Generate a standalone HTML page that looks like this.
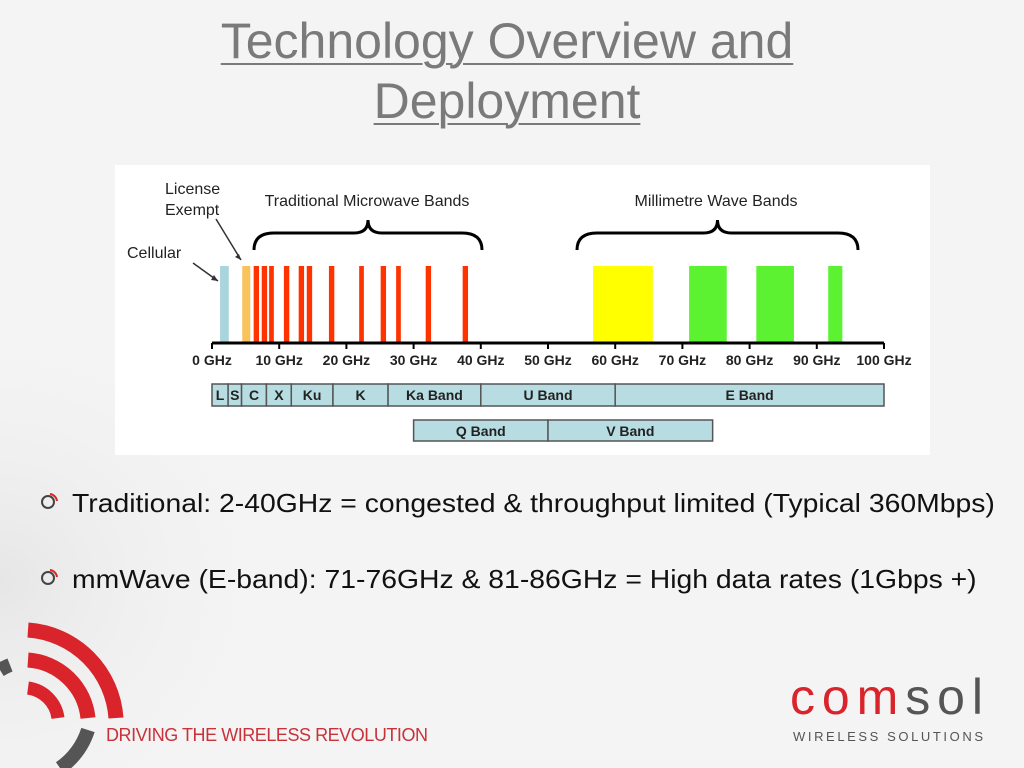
<!DOCTYPE html>
<html><head><meta charset="utf-8"><style>
body{margin:0;width:1024px;height:768px;overflow:hidden;background:#f4f4f4;font-family:"Liberation Sans",sans-serif;position:relative}
.t{position:absolute;left:0;width:1014px;text-align:center;color:#7a7a7a;font-size:50px;text-decoration:underline;text-decoration-thickness:2px;text-underline-offset:5px}
.b{position:absolute;left:72px;font-size:26px;color:#111;white-space:nowrap;transform:scaleX(1.09);transform-origin:left top}
</style></head><body>
<svg width="1024" height="768" style="position:absolute;left:0;top:0">
<defs><radialGradient id="g" cx="0" cy="0.6" r="0.6"><stop offset="0" stop-color="#e6e6e6"/><stop offset="1" stop-color="#f4f4f4" stop-opacity="0"/></radialGradient></defs>
<rect x="0" y="300" width="500" height="468" fill="url(#g)"/>
</svg>
<div class="t" style="top:12px">Technology Overview and</div>
<div class="t" style="top:72px">Deployment</div>
<svg id="chart" width="1024" height="768" style="position:absolute;left:0;top:0" font-family="Liberation Sans, sans-serif"></svg>
<div class="b" style="top:488px">Traditional: 2-40GHz = congested &amp; throughput limited (Typical 360Mbps)</div>
<div class="b" style="top:564px">mmWave (E-band): 71-76GHz &amp; 81-86GHz = High data rates (1Gbps +)</div>
<svg width="1024" height="768" style="position:absolute;left:0;top:0">
<g fill="none" stroke-width="2"><circle cx="48" cy="502" r="6" stroke="#444"/><circle cx="48" cy="578" r="6" stroke="#444"/>
<path d="M50 494 A8 8 0 0 1 57 501" stroke="#d22"/><path d="M50 570 A8 8 0 0 1 57 577" stroke="#d22"/></g>
<g fill="none" stroke-linecap="butt">
<path d="M28 630 A95 95 0 0 1 116 718" stroke="#d9242b" stroke-width="15"/>
<path d="M28 660 A65 65 0 0 1 88 718" stroke="#d9242b" stroke-width="15"/>
<path d="M28 688 A35 35 0 0 1 58 718" stroke="#d9242b" stroke-width="13"/>
<path d="M0 670 A60 60 0 0 1 10 665" stroke="#555" stroke-width="14"/>
<path d="M88 730 A75 75 0 0 1 60 768" stroke="#555" stroke-width="14"/>
</g>
<text x="106" y="741" font-family="Liberation Sans, sans-serif" font-size="18" textLength="322" fill="#c8323a">DRIVING THE WIRELESS REVOLUTION</text>
<text x="790" y="714" font-family="Liberation Sans, sans-serif" font-size="50" textLength="193"><tspan fill="#d9242b">com</tspan><tspan fill="#555">sol</tspan></text>
<text x="793" y="741" font-family="Liberation Sans, sans-serif" font-size="13" textLength="190" fill="#555">WIRELESS  SOLUTIONS</text>
</svg>
<script>
const ticks=[0,10,20,30,40,50,60,70,80,90,100];
const cellular=[[1.2,2.5]];
const licenseExempt=[[4.5,5.7]];
const traditional=[[6.2,7],[7.4,8.2],[8.5,9.2],[10.7,11.5],[12.9,13.7],[14.1,14.9],[17.4,18.2],[21.9,22.6],[25.1,25.9],[27.4,28.1],[31.8,32.6],[37.3,38.1]];
const vband=[[56.7,65.6]];
const eband=[[71,76.6],[81,86.6],[91.7,93.8]];
const bandNames=["L","S","C","X","Ku","K","Ka Band","U Band","E Band"];
const bandEdges=[0,2.4,4.4,8.1,11.8,18,26.2,40,60,100];
const band2Names=["Q Band","V Band"];
const band2Edges=[30,50,74.5];
const NS="http://www.w3.org/2000/svg";
const svg=document.getElementById('chart');
const X=g=>212+g*6.72;
function el(t,a,p){const e=document.createElementNS(NS,t);for(const k in a)e.setAttribute(k,a[k]);(p||svg).appendChild(e);return e;}
const panel=el('rect',{x:115,y:165,width:815,height:290,fill:'#fff'});


function bars(arr,color,name){arr.forEach((b,i)=>{const r=el('rect',{x:X(b[0]),y:266,width:X(b[1])-X(b[0]),height:76,fill:color});

});}
bars(cellular,'#a9d6dc','cellular-bar');
bars(licenseExempt,'#f9c25a','license-exempt-bar');
bars(traditional,'#ff3300','microwave-bar');
bars(vband,'#ffff00','v-band-bar');
bars(eband,'#5cf232','e-band-bar');
const ax=el('line',{x1:X(0),x2:X(100),y1:343,y2:343,stroke:'#000','stroke-width':3});


ticks.forEach(t=>{el('line',{x1:X(t),x2:X(t),y1:343,y2:349,stroke:'#000','stroke-width':2});
const tx=el('text',{x:X(t),y:365,'text-anchor':'middle','font-size':14,'font-weight':'bold',fill:'#222'});tx.textContent=t+' GHz';

});
function bandRow(names,edges,y,h,nm){names.forEach((n,i)=>{const x1=X(edges[i]),x2=X(edges[i+1]);
el('rect',{x:x1,y:y,width:x2-x1,height:h,fill:'#b7dde3',stroke:'#555','stroke-width':1.5});
const t=el('text',{x:(x1+x2)/2,y:y+16,'text-anchor':'middle','font-size':14,'font-weight':'bold',fill:'#222'});t.textContent=n;

});}
bandRow(bandNames,bandEdges,384,22,'band');
bandRow(band2Names,band2Edges,420,21,'band2');
function brace(x1,x2,name){const m=(x1+x2)/2;const p=el('path',{d:`M${x1} 250 Q${x1} 233 ${x1+20} 233 L${m-14} 233 Q${m} 233 ${m} 220 Q${m} 233 ${m+14} 233 L${x2-20} 233 Q${x2} 233 ${x2} 250`,fill:'none',stroke:'#000','stroke-width':3});

}
brace(254,482,'traditional-brace');brace(577,858,'mmwave-brace');
function lbl(x,y,s,a){const t=el('text',{x:x,y:y,'font-size':16,fill:'#222','text-anchor':a||'start'});t.textContent=s;

}
lbl(367,206,'Traditional Microwave Bands','middle');lbl(716,206,'Millimetre Wave Bands','middle');
lbl(165,194,'License');lbl(165,215,'Exempt');lbl(127,258,'Cellular');
el('line',{x1:193,y1:263,x2:218,y2:281,stroke:'#333','stroke-width':1.5});
el('line',{x1:216,y1:219,x2:241,y2:260,stroke:'#333','stroke-width':1.5});
el('path',{d:'M218 281 l-7 -1 l3 -5 z',fill:'#333'});el('path',{d:'M241 260 l-6 -3 l4 -3 z',fill:'#333'});
</script>
</body></html>
